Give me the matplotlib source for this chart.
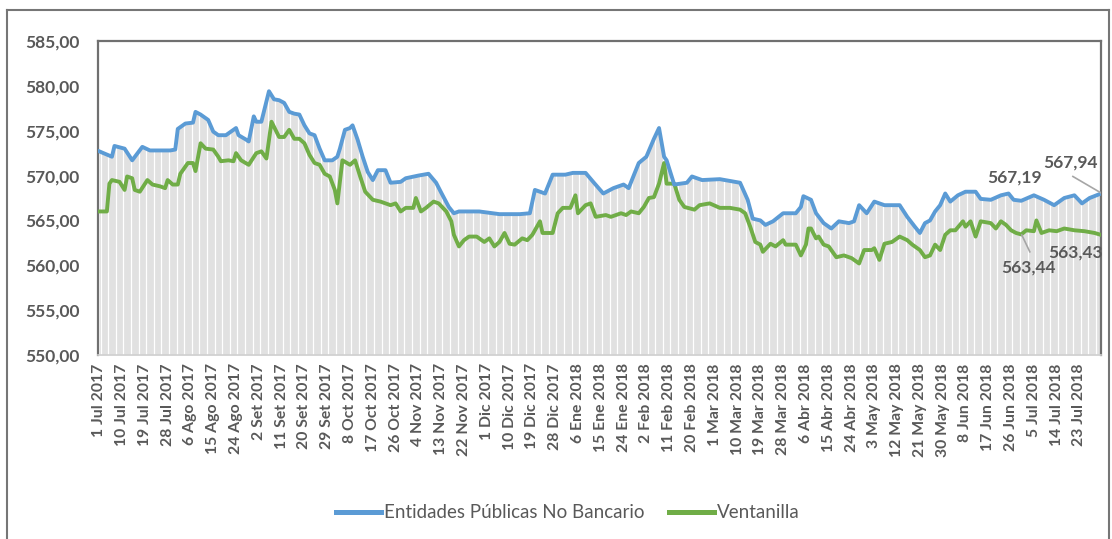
import datetime as dt
import matplotlib
matplotlib.use("Agg")
import matplotlib.pyplot as plt
from matplotlib.lines import Line2D

# Dias desde 1 Jul 2017 y valores
ent_days = [0, 5, 6, 10, 13, 17, 20, 28, 30, 31, 34, 37, 38, 40, 42, 43, 45, 47, 50, 52,
            54, 55, 58, 59, 61, 62, 64, 67, 69, 71, 73, 75, 77, 79, 81, 83, 85, 87, 89, 92,
            94, 95, 97, 99, 100, 102, 104, 106, 108, 110, 113, 115, 119, 121, 126, 130, 133, 135, 138, 140,
            142, 150, 158, 166, 170, 172, 176, 179, 184, 187, 192, 195, 199, 203, 207, 209, 213, 216, 219, 221,
            223, 224, 227, 232, 234, 238, 245, 253, 256, 258, 261, 263, 266, 270, 275, 277, 278, 281, 283, 286,
            289, 292, 296, 298, 300, 303, 306, 310, 316, 319, 322, 324, 326, 328, 330, 332, 334, 336, 339, 342,
            346, 348, 352, 356, 359, 361, 364, 369, 373, 377, 381, 385, 388, 391, 395]
ent_vals = [572.7, 572.1, 573.3, 573.0, 571.7, 573.2, 572.8, 572.8, 572.9, 575.2, 575.8, 575.9, 577.1, 576.8, 576.4, 576.2, 574.9, 574.5, 574.5, 574.9,
            575.3, 574.5, 574.0, 573.8, 576.6, 576.0, 576.0, 579.4, 578.5, 578.4, 578.1, 577.1, 576.9, 576.8, 575.6, 574.7, 574.5, 573.0, 571.7, 571.7,
            572.1, 573.0, 575.1, 575.3, 575.6, 574.0, 572.1, 570.4, 569.5, 570.6, 570.6, 569.2, 569.3, 569.7, 570.0, 570.2, 569.2, 568.1, 566.5, 565.8,
            566.0, 566.0, 565.7, 565.7, 565.8, 568.4, 568.0, 570.1, 570.1, 570.3, 570.3, 569.3, 568.0, 568.6, 569.0, 568.6, 571.4, 572.1, 574.1, 575.3,
            572.1, 571.7, 569.0, 569.2, 569.9, 569.5, 569.6, 569.2, 567.3, 565.2, 565.0, 564.5, 564.9, 565.8, 565.8, 566.5, 567.7, 567.3, 565.8, 564.7,
            564.1, 564.9, 564.7, 564.9, 566.7, 565.8, 567.1, 566.7, 566.7, 565.4, 564.3, 563.6, 564.7, 565.0, 566.0, 566.7, 568.0, 567.1, 567.8, 568.2,
            568.2, 567.4, 567.3, 567.8, 568.0, 567.3, 567.19, 567.8, 567.3, 566.7, 567.5, 567.8, 566.9, 567.5, 567.94]

ven_days = [0, 3, 4, 5, 8, 10, 11, 13, 14, 16, 19, 21, 24, 26, 27, 29, 31, 32, 35, 37,
            38, 40, 42, 45, 47, 48, 51, 53, 54, 56, 59, 62, 64, 66, 68, 71, 73, 75, 77, 79,
            81, 83, 85, 87, 89, 91, 93, 94, 96, 99, 101, 103, 105, 108, 111, 115, 117, 119, 121, 124,
            125, 127, 129, 132, 134, 137, 139, 140, 142, 144, 146, 149, 152, 154, 156, 158, 160, 162, 164, 167,
            169, 171, 174, 175, 179, 181, 183, 186, 188, 189, 192, 194, 196, 200, 202, 206, 208, 210, 213, 215,
            217, 219, 221, 223, 224, 227, 229, 231, 235, 237, 241, 245, 249, 253, 255, 257, 259, 261, 262, 265,
            267, 270, 271, 275, 277, 279, 280, 281, 283, 284, 286, 288, 291, 294, 297, 300, 302, 305, 306, 308,
            310, 313, 316, 319, 321, 324, 326, 328, 330, 332, 334, 336, 338, 341, 342, 344, 346, 348, 352, 354,
            356, 358, 360, 362, 364, 366, 369, 370, 372, 375, 378, 381, 385, 389, 393, 395]
ven_vals = [566.0, 566.0, 569.1, 569.5, 569.3, 568.4, 569.9, 569.7, 568.4, 568.2, 569.5, 569.0, 568.8, 568.6, 569.5, 569.0, 569.0, 570.2, 571.4, 571.4,
            570.5, 573.6, 573.0, 572.9, 572.1, 571.6, 571.7, 571.6, 572.5, 571.7, 571.2, 572.5, 572.7, 571.9, 576.0, 574.3, 574.3, 575.1, 574.1, 574.1,
            573.6, 572.3, 571.4, 571.2, 570.2, 569.9, 568.4, 566.9, 571.7, 571.2, 571.7, 569.9, 568.2, 567.3, 567.1, 566.7, 566.9, 566.0, 566.4, 566.4,
            567.5, 566.0, 566.4, 567.1, 566.9, 566.0, 564.9, 563.4, 562.1, 562.8, 563.2, 563.2, 562.6, 563.0, 562.1, 562.6, 563.6, 562.4, 562.3, 563.0,
            562.8, 563.4, 564.9, 563.6, 563.6, 565.8, 566.4, 566.4, 567.8, 565.8, 566.7, 566.9, 565.4, 565.6, 565.4, 565.8, 565.6, 566.0, 565.8, 566.5,
            567.5, 567.6, 569.1, 571.4, 569.1, 569.1, 567.3, 566.5, 566.2, 566.7, 566.9, 566.4, 566.4, 566.2, 565.8, 564.3, 562.6, 562.3, 561.5, 562.4,
            562.1, 562.8, 562.3, 562.3, 561.1, 562.3, 564.1, 564.1, 563.0, 563.2, 562.3, 562.1, 560.9, 561.1, 560.8, 560.2, 561.7, 561.7, 561.9, 560.6,
            562.4, 562.6, 563.2, 562.8, 562.3, 561.7, 560.9, 561.1, 562.3, 561.7, 563.4, 563.9, 563.9, 564.9, 564.3, 564.9, 563.2, 564.9, 564.7, 564.1,
            564.9, 564.5, 563.9, 563.6, 563.44, 563.9, 563.8, 565.0, 563.6, 563.9, 563.8, 564.1, 563.9, 563.8, 563.6, 563.43]

n_days = 396
start = dt.date(2017, 7, 1)
meses = ["Ene", "Feb", "Mar", "Abr", "May", "Jun", "Jul", "Ago", "Set", "Oct", "Nov", "Dic"]
tick_days = list(range(0, n_days, 9))
tick_labels = []
for d in tick_days:
    f = start + dt.timedelta(days=d)
    tick_labels.append(f"{f.day} {meses[f.month - 1]} {f.year}")

blue = "#5B9BD5"
green = "#70AD47"
txt = "#595959"
plt.rcParams["font.family"] = ["Lato", "DejaVu Sans"]

fig = plt.figure(figsize=(11.12, 5.39), dpi=100)
ax = fig.add_axes([98 / 1112, 1 - 355 / 539, 1003 / 1112, 314 / 539])

ax.fill_between(ent_days, ent_vals, 550, color="#E1E1E1", lw=0, zorder=1)
for d in range(0, n_days, 3):
    ax.axvline(d + 0.5, color="white", lw=0.9, zorder=2)
ax.plot(ent_days, ent_vals, color=blue, lw=2.8, zorder=4, solid_joinstyle="round")
ax.plot(ven_days, ven_vals, color=green, lw=2.8, zorder=3, solid_joinstyle="round")

ax.set_xlim(-0.5, n_days - 0.5)
ax.set_ylim(550, 585)
ax.set_yticks(range(550, 586, 5))
ax.set_yticklabels([f"{v},00" for v in range(550, 586, 5)], fontsize=12.5,
                   fontweight="bold", color=txt)
ax.set_xticks(tick_days)
ax.set_xticklabels(tick_labels, rotation=90, fontsize=11.3, fontweight="bold", color=txt)
ax.tick_params(axis="both", length=0, pad=6)
ax.tick_params(axis="y", pad=13)
for s in ["top", "left", "right"]:
    ax.spines[s].set_color("#707070")
    ax.spines[s].set_linewidth(1.6)
ax.spines["bottom"].set_color("#D0D0D0")
ax.spines["bottom"].set_linewidth(1.2)

# etiquetas de datos
lab = dict(fontsize=12.5, fontweight="bold", color=txt, ha="center", va="center", zorder=6)
ax.text(361.5, 569.75, "567,19", **lab)
ax.text(383.5, 571.5, "567,94", **lab)
ax.text(367.0, 559.7, "563,44", **lab)
ax.text(385.3, 561.4, "563,43", **lab)
ax.plot([384.4, 395.3], [569.9, 568.1], color="#A6A6A6", lw=1.2, zorder=5)
ax.plot([364.2, 367.4], [563.4, 561.5], color="#A6A6A6", lw=1.2, zorder=5)

handles = [Line2D([], [], color=blue, lw=3.6), Line2D([], [], color=green, lw=3.6)]
fig.legend(handles, ["Entidades Públicas No Bancario", "Ventanilla"], loc="center",
           bbox_to_anchor=(568 / 1112, 1 - 513 / 539), ncol=2, frameon=False,
           fontsize=13.5, labelcolor=txt, handlelength=2.4, handletextpad=0.15,
           columnspacing=1.3)

# marco exterior
fig.add_artist(Line2D([7 / 1112, 7 / 1112], [0, 1 - 10 / 539], color="#767676", lw=1.5))
fig.add_artist(Line2D([7 / 1112, 1109 / 1112], [1 - 10 / 539, 1 - 10 / 539], color="#767676", lw=1.5))
fig.add_artist(Line2D([1109 / 1112, 1109 / 1112], [0, 1 - 10 / 539], color="#767676", lw=1.5))

fig.savefig("out.png", dpi=100)
